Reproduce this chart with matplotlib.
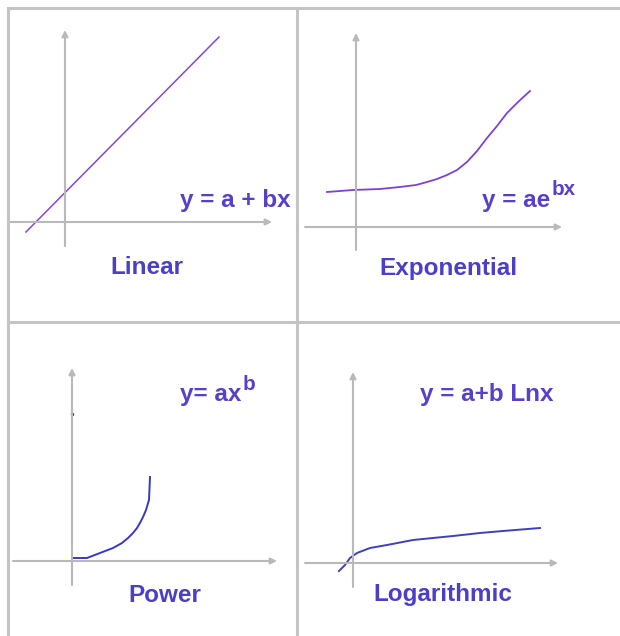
import matplotlib
matplotlib.use("Agg")
import matplotlib.pyplot as plt
from matplotlib.lines import Line2D

plt.rcParams['font.family'] = ['Liberation Sans', 'DejaVu Sans']

W, H = 620, 636

# curve data, units = pixels measured from each panel's origin
linear_x = [-39, 154]
linear_y = [-10, 185]

expo_x = [-29, -3, 24, 44, 60, 71, 81, 91, 101, 111, 121, 131, 141, 151, 162, 174]
expo_y = [35, 37, 38, 40, 42, 45, 48, 52, 57, 65, 76, 89, 101, 114, 125, 136]

power_x = [0, 8, 15, 28, 41, 50, 56, 61, 65, 68, 71, 74, 77, 78]
power_y = [3, 3, 3, 8, 13, 18, 23, 28, 33, 38, 44, 51, 61, 84]
power_dot = (0, 147)

log_x = [-14, -8, -3, 4, 17, 34, 60, 80, 100, 127, 150, 187]
log_y = [-8, -2, 5, 10, 15, 18, 23, 25, 27, 30, 32, 35]

names = ["Linear", "Exponential", "Power", "Logarithmic"]
eq_base = ["y = a + bx", "y = ae", "y= ax", "y = a+b Lnx"]
eq_sup = ["", "bx", "b", ""]

grey = "#c4c4c4"
axis_grey = "#b9b9b9"
text_col = "#4b3fc9"
eq_col = "#5840cc"
fs = 17.5

fig = plt.figure(figsize=(W / 100, H / 100), dpi=100)


# grid lines of the 2x2 table
def fline(x0, y0, x1, y1):
    fig.add_artist(Line2D([x0 / W, x1 / W], [1 - y0 / H, 1 - y1 / H],
                          color=grey, lw=2.2, transform=fig.transFigure))


fline(8, 8, W, 8)
fline(8, 322, W, 322)
fline(8, 8, 8, H)
fline(297, 8, 297, H)


def panel(cell, origin, xaxis, yaxis):
    x0, y0, x1, y1 = cell
    ox, oy = origin
    ax = fig.add_axes([x0 / W, 1 - y1 / H, (x1 - x0) / W, (y1 - y0) / H])
    ax.set_xlim(x0 - ox, x1 - ox)
    ax.set_ylim(oy - y1, oy - y0)
    ax.axis("off")
    ap = dict(arrowstyle="-|>", color=axis_grey, lw=1.5, mutation_scale=9,
              shrinkA=0, shrinkB=0)
    ax.annotate("", xy=(xaxis[1], 0), xytext=(xaxis[0], 0), arrowprops=ap,
                annotation_clip=False)
    ax.annotate("", xy=(0, yaxis[1]), xytext=(0, yaxis[0]), arrowprops=ap,
                annotation_clip=False)
    return ax


def equation(ax, x, y, base, sup):
    t = ax.text(x, y, base, ha="left", va="center", fontsize=fs,
                fontweight="bold", color=eq_col)
    if sup:
        ax.annotate(sup, xy=(1, 0.55), xycoords=t, xytext=(1, 0),
                    textcoords="offset points", ha="left", va="bottom",
                    fontsize=fs * 0.85, fontweight="bold", color=eq_col)


def label(ax, x, y, s):
    ax.text(x, y, s, ha="center", va="center", fontsize=fs,
            fontweight="bold", color=text_col)


ax1 = panel((8, 8, 297, 322), (65, 222), (-57, 207), (-24, 192))
ax1.plot(linear_x, linear_y, color="#8448d8", lw=1.1, clip_on=False)
equation(ax1, 115, 22, eq_base[0], eq_sup[0])
label(ax1, 82, -46, names[0])

ax2 = panel((297, 8, 620, 322), (356, 227), (-51, 206), (-23, 194))
ax2.plot(expo_x, expo_y, color="#8040d4", lw=1.3, clip_on=False)
equation(ax2, 126, 27, eq_base[1], eq_sup[1])
label(ax2, 92, -41, names[1])

ax3 = panel((8, 322, 297, 636), (72, 561), (-59, 205), (-24, 193))
ax3.plot(power_x, power_y, color="#3838c8", lw=1.4, clip_on=False)
ax3.plot([power_dot[0]], [power_dot[1]], marker="o", ms=1.5, color="#3838c8")
equation(ax3, 108, 166, eq_base[2], eq_sup[2])
label(ax3, 93, -34, names[2])

ax4 = panel((297, 322, 620, 636), (353, 563), (-48, 205), (-24, 191))
ax4.plot(log_x, log_y, color="#3f3fc4", lw=1.4, clip_on=False)
equation(ax4, 67, 168, eq_base[3], eq_sup[3])
label(ax4, 90, -32, names[3])

fig.savefig("out.png", dpi=100)
